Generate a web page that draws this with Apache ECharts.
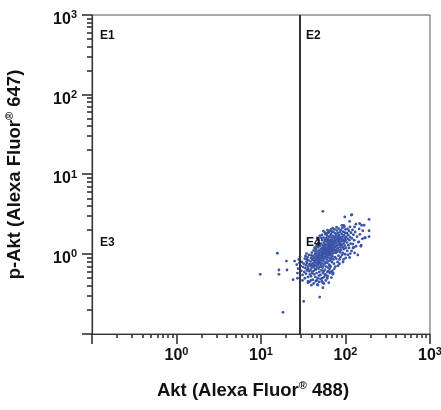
<!DOCTYPE html>
<html><head><meta charset="utf-8">
<script src="https://cdn.jsdelivr.net/npm/echarts@6/dist/echarts.min.js"></script>
<style>html,body{margin:0;padding:0;background:#fff}#c{width:441px;height:410px}</style>
</head><body><div id="c"></div>
<script>
// ---- data ----
const axisMin = 0.1;
const axisMax = 1000;
const tickExponents = [0, 1, 2, 3];
const majorTickValues = [0.1, 1, 10, 100, 1000];
const minorMultipliers = [2, 3, 4, 5, 6, 7, 8, 9];
const gateX = 29;
const quadrantLabels = ['E1', 'E2', 'E3', 'E4'];
const xTitle = ['Akt (Alexa Fluor', '®', ' 488)'];
const yTitle = ['p-Akt (Alexa Fluor', '®', ' 647)'];
// events: [Akt (AF488), p-Akt (AF647)]
const events = [
[26.5,0.74],[27.5,0.66],[28,0.86],[29.5,0.71],[30,0.62],[30.5,0.8],[31,0.55],[31.5,0.69],[32,0.76],[32.5,0.6],[33,0.88],[33,0.5],[27,0.58],[29,0.93],[31,0.47],
[33.5,0.67],[34,0.73],[34.5,0.81],[34,0.57],[35,0.63],[35.5,0.92],[35,0.77],[36,0.7],[36,0.52],[36.5,0.84],[37,0.61],[37,0.98],[37.5,0.75],[37.5,0.45],[34.5,1.02],[36,0.66],[38,0.72],[38,0.56],[35,0.86],[33.5,0.95],
[38.5,0.81],[38.5,0.64],[39,0.9],[39,0.53],[39.5,0.74],[40,1.05],[40,0.68],[40,0.6],[40.5,0.85],[41,0.77],[41,0.48],[41.5,0.95],[41.5,0.7],[42,0.62],[42,1.12],[42.5,0.83],[42.5,0.56],[43,0.9],[43,0.74],[43.5,1.0],[43.5,0.66],[44,0.79],[44,0.52],[39.5,0.97],[41,0.88],[42,0.71],[43,1.2],[44,1.08],[40.5,0.58],[38.8,0.72],
[44.5,0.93],[44.5,0.64],[45,0.85],[45,1.15],[45,0.72],[45.5,1.02],[45.5,0.58],[46,0.78],[46,0.95],[46,1.3],[46.5,0.68],[46.5,0.88],[47,1.08],[47,0.74],[47,0.5],[47.5,0.82],[47.5,1.22],[48,0.92],[48,0.66],[48,1.4],[48.5,1.0],[48.5,0.77],[49,0.86],[49,1.12],[49,0.6],[49.5,0.97],[49.5,0.7],[50,1.05],[50,0.8],[50,1.28],[50.5,0.9],[50.5,0.55],[51,1.16],[51,0.74],[44.8,1.25],[46.2,1.6],[47.8,1.5],[49.6,1.7],[45.7,0.47],[48.7,0.45],
[51.5,0.96],[51.5,1.36],[52,0.84],[52,1.08],[52,0.63],[52.5,1.2],[52.5,0.9],[53,1.0],[53,0.77],[53,1.5],[53.5,1.14],[53.5,0.68],[54,0.94],[54,1.28],[54,0.58],[54.5,1.05],[54.5,0.83],[55,1.18],[55,0.72],[55,1.62],[55.5,0.99],[55.5,1.4],[56,0.88],[56,1.1],[56,0.52],[56.5,1.25],[56.5,0.76],[57,1.02],[57,1.52],[57,0.64],[57.5,1.16],[57.5,0.92],[58,1.33],[58,0.8],[58,1.78],[51.8,1.6],[53.2,0.5],[55.2,0.61],[56.8,1.88],[52.7,1.75],[54.7,1.95],[57.3,0.56],[53.8,0.44],[55.8,1.33],[51.2,0.7],
[58.5,1.06],[58.5,1.46],[59,0.95],[59,1.2],[59,0.7],[59.5,1.12],[59.5,1.6],[60,0.86],[60,1.3],[60,1.0],[60.5,1.72],[60.5,0.78],[61,1.18],[61,1.42],[61,0.6],[61.5,1.04],[61.5,0.92],[62,1.55],[62,1.26],[62,0.68],[62.5,1.1],[62.5,1.85],[63,0.98],[63,1.36],[63,0.82],[63.5,1.2],[63.5,1.65],[64,1.06],[64,0.74],[64,1.48],[64.5,0.9],[64.5,1.3],[65,1.14],[65,1.96],[65,0.58],[65.5,1.0],[65.5,1.4],[66,1.24],[66,0.84],[66,1.7],[58.8,0.55],[60.8,0.5],[62.8,0.62],[64.8,0.66],[59.3,1.82],[61.3,2.0],[63.3,1.9],[65.3,0.72],[60.2,1.52],[62.2,1.14],
[66.5,1.08],[66.5,1.52],[67,0.96],[67,1.32],[67,0.7],[67.5,1.2],[67.5,1.8],[68,1.04],[68,1.44],[68,0.88],[68.5,1.62],[68.5,1.16],[69,0.8],[69,1.28],[69,1.92],[69.5,1.1],[69.5,1.5],[70,0.94],[70,1.36],[70,0.62],[71,1.2],[71,1.7],[71,1.02],[72,1.42],[72,0.86],[72,1.9],[72.5,1.14],[73,1.3],[73,1.58],[73,0.76],[74,1.06],[74,1.46],[74,2.05],[74.5,1.22],[75,0.92],[75,1.64],[75,1.36],[75.5,1.12],[76,1.5],[76,0.7],[67.3,2.05],[70.6,2.12],[73.6,0.66],[68.8,0.6],[71.6,0.58],[75.8,1.82],
[77,1.25],[77,1.04],[77.5,1.72],[78,1.4],[78,0.88],[78.5,1.16],[79,1.56],[79,1.98],[80,1.3],[80,1.08],[80.5,0.8],[81,1.48],[81,1.84],[82,1.2],[82,1.62],[82.5,0.96],[83,1.38],[83,2.1],[84,1.12],[84,1.74],[84.5,1.52],[85,0.86],[85,1.3],[86,1.9],[86,1.44],[86.5,1.06],[87,1.64],[87,1.22],[88,2.0],[88,1.36],[78.3,2.18],[81.6,0.72],[84.8,0.76],[87.4,0.92],[79.6,1.68],[83.4,1.58],
[89,1.56],[89,1.14],[90,1.8],[90,1.3],[91,0.98],[91,1.46],[92,2.14],[92,1.66],[93,1.22],[93,1.04],[94,1.52],[94,1.92],[95,1.36],[95,0.86],[96,1.74],[96,1.16],[97,2.22],[97,1.44],[98,1.28],[98,1.6],[99,1.0],[99,1.86],[100,1.5],[100,2.05],[101,1.2],[102,1.66],[90.5,2.3],[95.5,2.3],[93.5,0.8],[100.5,0.9],
[104,1.4],[104,1.84],[105,1.1],[106,2.08],[106,1.56],[108,1.3],[108,1.74],[110,1.96],[110,1.2],[111,1.5],[113,2.2],[113,1.64],[115,1.36],[116,1.86],[118,1.1],[119,1.58],[121,2.02],[122,1.34],[124,1.76],[107,0.98],[114,1.02],[123,1.2],
[127,1.5],[130,1.9],[133,1.26],[137,1.66],[142,1.42],[148,1.78],[153,1.3],[128,2.2],[145,2.08],[158,1.56],
[36,0.44],[39,0.47],[42,0.43],[44.5,0.46],[46.5,0.42],[50.5,0.49],[52.5,0.46],[58.5,0.47],[61.5,0.53],[66.5,0.6],[70.5,0.56],[63.5,0.44],[55.5,0.43],[48.5,0.54],[68,0.51],
[54,3.45],[98,2.94],[119,3.14],[112,2.59],[190,2.74],[147,2.43],[166,2.31],[190,1.97],[190,1.66],[172,1.61],[160,1.97],[15.6,1.03],[9.8,0.56],[16.3,0.635],[16.3,0.56],[20,0.82],[20.3,0.635],[25,0.82],[24,0.48],[18.2,0.187],[32,0.257],[49.5,0.29],[140,0.98],[112,0.91],[54,0.38],[47,0.41],[39.5,0.41],[36,0.456],[27,0.5],[28.5,0.78],
[128,1.04],[125,1.22],[152,1.26],[144,1.43],[168,1.6],[133,2.38],[117,3.1],[155,2.31]
];

// ---- chart ----
const FONT = 'Liberation Sans, Arial, sans-serif';
const INK = '#111';
const AXIS = '#333';
const minorVals = [];
for (let e = -1; e < 3; e++) minorMultipliers.forEach(m => minorVals.push(m * Math.pow(10, e)));

function labelFmt(v) {
  const e = Math.round(Math.log10(v));
  if (!tickExponents.includes(e)) return '';
  return '{b|10}{s|' + e + '}';
}
const labelRich = {
  b: { fontSize: 16, fontWeight: 'bold', fontFamily: FONT, color: INK, lineHeight: 18, verticalAlign: 'bottom' },
  s: { fontSize: 11, fontWeight: 'bold', fontFamily: FONT, color: INK, lineHeight: 11, verticalAlign: 'top' }
};
const nameRich = {
  t: { fontSize: 18.5, fontWeight: 'bold', fontFamily: FONT, color: INK, lineHeight: 22 },
  r: { fontSize: 11, fontWeight: 'bold', fontFamily: FONT, color: INK, lineHeight: 11, verticalAlign: 'top' }
};
const nameStr = a => '{t|' + a[0] + '}{r|' + a[1] + '}{t|' + a[2] + '}';

function tickSeries(values, dim, len) {
  return {
    type: 'custom', silent: true, clip: false, z: 5,
    data: values.map(v => dim === 'x' ? [v, axisMin] : [axisMin, v]),
    encode: { x: 0, y: 1 },
    renderItem: (params, api) => {
      const p = api.coord([api.value(0), api.value(1)]);
      const shape = dim === 'x'
        ? { x1: Math.round(p[0]), y1: p[1], x2: Math.round(p[0]), y2: p[1] + len }
        : { x1: p[0], y1: Math.round(p[1]), x2: p[0] - len, y2: Math.round(p[1]) };
      return { type: 'line', shape: shape, style: { stroke: AXIS, lineWidth: 1.6 } };
    }
  };
}

const chart = echarts.init(document.getElementById('c'));
chart.setOption({
  animation: false,
  backgroundColor: '#fff',
  grid: { left: 92, right: 11, top: 15, bottom: 76, show: true, borderColor: '#555', borderWidth: 1, outerBoundsMode: 'none' },
  xAxis: {
    type: 'log', min: axisMin, max: axisMax,
    name: nameStr(xTitle), nameLocation: 'middle', nameGap: 46,
    nameTextStyle: { rich: nameRich, padding: [0, 16, 0, 0] },
    axisLine: { show: true, lineStyle: { color: AXIS, width: 1.2 } },
    axisTick: { show: false },
    splitLine: { show: false },
    axisLabel: { formatter: labelFmt, rich: labelRich, margin: 12 }
  },
  yAxis: {
    type: 'log', min: axisMin, max: axisMax,
    name: nameStr(yTitle), nameLocation: 'middle', nameGap: 66, nameTextStyle: { rich: nameRich },
    axisLine: { show: true, lineStyle: { color: AXIS, width: 1.2 } },
    axisTick: { show: false },
    splitLine: { show: false },
    axisLabel: { formatter: labelFmt, rich: labelRich, margin: 15, padding: [7, 0, 0, 0] }
  },
  graphic: [
    { type: 'text', z: 100, left: 100, top: 30, style: { text: quadrantLabels[0], font: 'bold 12px ' + FONT, fill: INK } },
    { type: 'text', z: 100, left: 306, top: 30, style: { text: quadrantLabels[1], font: 'bold 12px ' + FONT, fill: INK } },
    { type: 'text', z: 100, left: 100, top: 237, style: { text: quadrantLabels[2], font: 'bold 12px ' + FONT, fill: INK } },
    { type: 'text', z: 100, left: 306, top: 237, style: { text: quadrantLabels[3], font: 'bold 12px ' + FONT, fill: INK } }
  ],
  series: [
    {
      type: 'scatter', data: events, symbol: 'circle', symbolSize: 2.8,
      itemStyle: { color: '#3a54a6', opacity: 1 }, silent: true, z: 3,
      markLine: {
        silent: true, symbol: 'none', label: { show: false },
        lineStyle: { color: '#333', width: 2, type: 'solid' },
        data: [{ xAxis: gateX }]
      }
    },
    tickSeries(majorTickValues, 'x', 10),
    tickSeries(majorTickValues, 'y', 10),
    tickSeries(minorVals, 'x', 4),
    tickSeries(minorVals, 'y', 5)
  ]
});
</script></body></html>
